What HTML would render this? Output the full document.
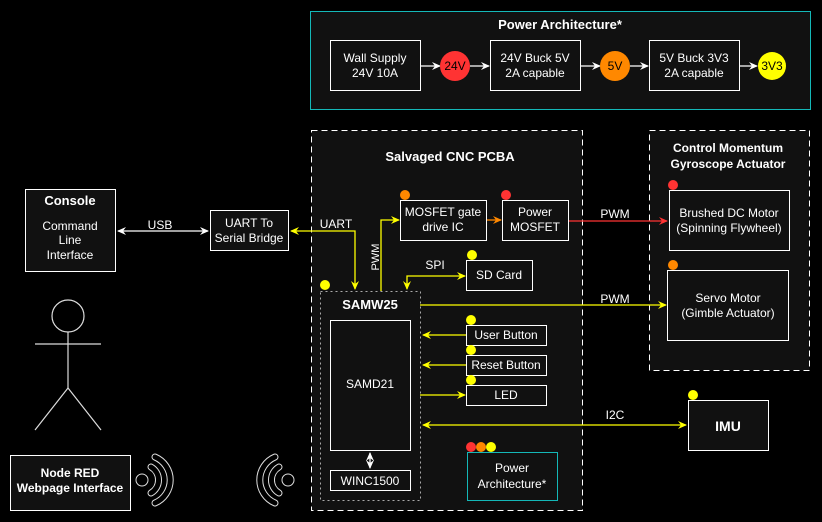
<!DOCTYPE html>
<html><head><style>
body{margin:0;background:#000;}
svg{display:block;font-family:"Liberation Sans",sans-serif;}
</style></head><body>
<svg width="822" height="522" viewBox="0 0 822 522" xmlns="http://www.w3.org/2000/svg">
<defs>
<marker id="aw" markerWidth="10" markerHeight="10" refX="8" refY="5" orient="auto-start-reverse" markerUnits="userSpaceOnUse"><path d="M0,1 L9,5 L0,9 L3,5 Z" fill="#fff"/></marker>
<marker id="ay" markerWidth="10" markerHeight="10" refX="8" refY="5" orient="auto-start-reverse" markerUnits="userSpaceOnUse"><path d="M0,1 L9,5 L0,9 L3,5 Z" fill="#ff0"/></marker>
<marker id="ao" markerWidth="10" markerHeight="10" refX="8" refY="5" orient="auto" markerUnits="userSpaceOnUse"><path d="M0,1 L9,5 L0,9 L3,5 Z" fill="#f80"/></marker>
<marker id="ar" markerWidth="10" markerHeight="10" refX="8" refY="5" orient="auto" markerUnits="userSpaceOnUse"><path d="M0,1 L9,5 L0,9 L3,5 Z" fill="#f33"/></marker>
</defs>
<rect width="822" height="522" fill="#000"/>
<g fill="#fff" font-size="12" text-anchor="middle">
<rect x="310.5" y="11.5" width="500" height="98" fill="#111" stroke="#14b8b8" stroke-width="1"/>
<text x="560" y="29" font-weight="bold" font-size="13">Power Architecture*</text>
<g fill="#111" stroke="#fff">
<rect x="330.5" y="40.5" width="90" height="50"/>
<rect x="490.5" y="40.5" width="90" height="50"/>
<rect x="649.5" y="40.5" width="90" height="50"/>
</g>
<text x="375" y="62">Wall Supply</text><text x="375" y="77">24V 10A</text>
<text x="535" y="62">24V Buck 5V</text><text x="535" y="77">2A capable</text>
<text x="694" y="62">5V Buck 3V3</text><text x="694" y="77">2A capable</text>
<g stroke="#fff" stroke-width="1.3" marker-end="url(#aw)">
<line x1="421" y1="66" x2="440" y2="66"/><line x1="470" y1="66" x2="489" y2="66"/>
<line x1="581" y1="66" x2="600" y2="66"/><line x1="630" y1="66" x2="648" y2="66"/>
<line x1="740" y1="66" x2="757" y2="66"/>
</g>
<circle cx="455" cy="66" r="15" fill="#f33"/><text x="455" y="70" fill="#000">24V</text>
<circle cx="615" cy="66" r="15" fill="#f80"/><text x="615" y="70" fill="#000">5V</text>
<circle cx="772" cy="66" r="14" fill="#ff0"/><text x="772" y="70" fill="#000">3V3</text>

<rect x="311.5" y="130.5" width="271" height="380" fill="#111" stroke="#fff" stroke-dasharray="6,4"/>
<text x="450" y="161" font-weight="bold" font-size="13">Salvaged CNC PCBA</text>
<rect x="649.5" y="130.5" width="160" height="240" fill="#111" stroke="#fff" stroke-dasharray="6,4"/>
<text x="728" y="152" font-weight="bold">Control Momentum</text>
<text x="728" y="168" font-weight="bold">Gyroscope Actuator</text>

<rect x="25.5" y="189.5" width="90" height="82" fill="#111" stroke="#fff"/>
<text x="70" y="205" font-weight="bold" font-size="13">Console</text>
<text x="70" y="230">Command</text><text x="70" y="244">Line</text><text x="70" y="259">Interface</text>
<rect x="210.5" y="210.5" width="78" height="40" fill="#111" stroke="#fff"/>
<text x="249" y="227">UART To</text><text x="249" y="242">Serial Bridge</text>
<line x1="118" y1="231" x2="208" y2="231" stroke="#fff" stroke-width="1.3" marker-start="url(#aw)" marker-end="url(#aw)"/>
<text x="160" y="229">USB</text>
<circle cx="68" cy="316" r="16" fill="none" stroke="#ddd" stroke-width="1.2"/>
<g stroke="#ddd" stroke-width="1.2"><line x1="68" y1="332" x2="68" y2="388"/><line x1="35" y1="344" x2="101" y2="344"/><line x1="68" y1="388" x2="35" y2="430"/><line x1="68" y1="388" x2="101" y2="430"/></g>
<rect x="10.5" y="455.5" width="120" height="55" fill="#111" stroke="#fff"/>
<text x="70" y="477" font-weight="bold">Node RED</text><text x="70" y="492" font-weight="bold">Webpage Interface</text>

<g fill="none" stroke-linecap="round">
<circle cx="142" cy="480" r="6" stroke="#ddd" stroke-width="1"/>
<circle cx="288" cy="480" r="6" stroke="#ddd" stroke-width="1"/>
<g stroke="#ddd" stroke-width="7">
<path d="M151,467 A15,15 0 0 1 151,493"/><path d="M155,457 A25,25 0 0 1 155,503"/>
<path d="M279,467 A15,15 0 0 0 279,493"/><path d="M275,457 A25,25 0 0 0 275,503"/>
</g>
<g stroke="#000" stroke-width="5">
<path d="M151,467 A15,15 0 0 1 151,493"/><path d="M155,457 A25,25 0 0 1 155,503"/>
<path d="M279,467 A15,15 0 0 0 279,493"/><path d="M275,457 A25,25 0 0 0 275,503"/>
</g>
</g>

<polyline points="355,289 355,231 291,231" fill="none" stroke="#ff0" stroke-width="1.3" marker-start="url(#ay)" marker-end="url(#ay)"/>
<text x="336" y="228">UART</text>
<polyline points="381,291 381,220 399,220" fill="none" stroke="#ff0" stroke-width="1.3" marker-end="url(#ay)"/>
<text x="379" y="257" transform="rotate(-90 379 257)" font-size="11">PWM</text>
<polyline points="407,289 407,276 465,276" fill="none" stroke="#ff0" stroke-width="1.3" marker-start="url(#ay)" marker-end="url(#ay)"/>
<text x="435" y="269">SPI</text>

<rect x="400.5" y="200.5" width="86" height="40" fill="#111" stroke="#fff"/>
<text x="443" y="216">MOSFET gate</text><text x="443" y="231">drive IC</text>
<circle cx="405" cy="195" r="5" fill="#f80"/>
<line x1="487" y1="220" x2="501" y2="220" stroke="#f80" stroke-width="1.3" marker-end="url(#ao)"/>
<rect x="502.5" y="200.5" width="66" height="40" fill="#111" stroke="#fff"/>
<text x="535" y="216">Power</text><text x="535" y="231">MOSFET</text>
<circle cx="506" cy="195" r="5" fill="#f33"/>
<line x1="569" y1="221" x2="667" y2="221" stroke="#f33" stroke-width="1.3" marker-end="url(#ar)"/>
<text x="615" y="218">PWM</text>
<rect x="669.5" y="190.5" width="120" height="60" fill="#111" stroke="#fff"/>
<text x="729" y="217">Brushed DC Motor</text><text x="729" y="232">(Spinning Flywheel)</text>
<circle cx="673" cy="185" r="5" fill="#f33"/>
<rect x="667.5" y="270.5" width="121" height="70" fill="#111" stroke="#fff"/>
<text x="728" y="302">Servo Motor</text><text x="728" y="317">(Gimble Actuator)</text>
<circle cx="673" cy="265" r="5" fill="#f80"/>
<line x1="420" y1="305" x2="666" y2="305" stroke="#ff0" stroke-width="1.3" marker-end="url(#ay)"/>
<text x="615" y="303">PWM</text>

<rect x="466.5" y="260.5" width="66" height="30" fill="#111" stroke="#fff"/>
<text x="499" y="279">SD Card</text>
<circle cx="472" cy="255" r="5" fill="#ff0"/>

<rect x="320.5" y="291.5" width="100" height="209" fill="none" stroke="#aaa" stroke-dasharray="2,3"/>
<circle cx="325" cy="285" r="5" fill="#ff0"/>
<text x="370" y="309" font-weight="bold" font-size="13">SAMW25</text>
<rect x="330.5" y="320.5" width="80" height="130" fill="#111" stroke="#fff"/>
<text x="370" y="388">SAMD21</text>
<rect x="330.5" y="470.5" width="80" height="20" fill="#111" stroke="#fff"/>
<text x="370" y="485">WINC1500</text>
<line x1="370" y1="453" x2="370" y2="468" stroke="#fff" stroke-width="1.3" marker-start="url(#aw)" marker-end="url(#aw)"/>

<g fill="#111" stroke="#fff">
<rect x="466.5" y="325.5" width="80" height="20"/><rect x="466.5" y="355.5" width="80" height="20"/><rect x="466.5" y="385.5" width="80" height="20"/>
</g>
<text x="506" y="339">User Button</text><text x="506" y="369">Reset Button</text><text x="506" y="399">LED</text>
<circle cx="471" cy="320" r="5" fill="#ff0"/><circle cx="471" cy="350" r="5" fill="#ff0"/><circle cx="471" cy="380" r="5" fill="#ff0"/>
<g stroke="#ff0" stroke-width="1.3">
<line x1="466" y1="335" x2="423" y2="335" marker-end="url(#ay)"/>
<line x1="466" y1="365" x2="423" y2="365" marker-end="url(#ay)"/>
<line x1="420" y1="395" x2="465" y2="395" marker-end="url(#ay)"/>
<line x1="423" y1="425" x2="686" y2="425" marker-start="url(#ay)" marker-end="url(#ay)"/>
</g>
<text x="615" y="419">I2C</text>
<rect x="688.5" y="400.5" width="80" height="50" fill="#111" stroke="#fff"/>
<text x="728" y="431" font-weight="bold" font-size="14">IMU</text>
<circle cx="693" cy="395" r="5" fill="#ff0"/>

<rect x="467.5" y="452.5" width="90" height="48" fill="#111" stroke="#14b8b8"/>
<text x="512" y="472">Power</text><text x="512" y="488">Architecture*</text>
<circle cx="471" cy="447" r="5" fill="#f33"/><circle cx="481" cy="447" r="5" fill="#f80"/><circle cx="491" cy="447" r="5" fill="#ff0"/>
</g>
</svg>
</body></html>
